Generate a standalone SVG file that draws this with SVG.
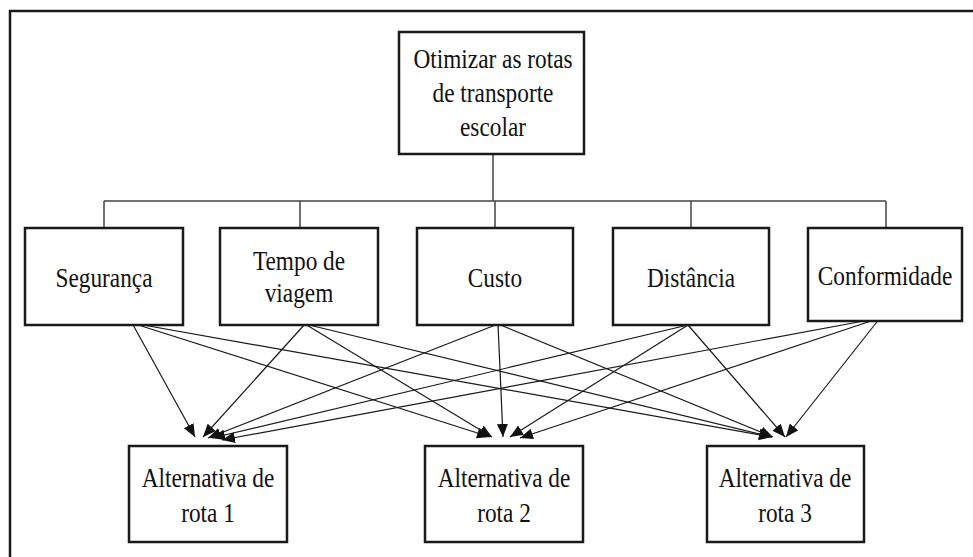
<svg xmlns="http://www.w3.org/2000/svg" width="973" height="557" viewBox="0 0 973 557">
<style>
.frame{fill:none;stroke:#1a1a1a;stroke-width:2.5}
.box{fill:#fff;stroke:#1a1a1a;stroke-width:2.5}
.tree{fill:none;stroke:#444;stroke-width:1.5}
.arr{fill:none;stroke:#1a1a1a;stroke-width:1.2;marker-end:url(#ah)}
.t{font-family:"Liberation Serif","Times New Roman",serif;font-size:28px;fill:#111;text-anchor:middle}
</style>
<defs>
<marker id="ah" markerUnits="userSpaceOnUse" markerWidth="14" markerHeight="12" refX="13" refY="5.5" orient="auto">
<path d="M0,0 L13,5.5 L0,11 z" fill="#111"/>
</marker>
</defs>
<rect class="frame" x="10" y="11" width="1000" height="600"/>
<g id="connectors">
<path class="tree" d="M493,154 V201 M104,201 H886 M104,201 V228 M300,201 V228 M495,201 V228 M691,201 V228 M886,201 V228"/>
<line class="arr" x1="132" y1="323" x2="195" y2="437"/>
<line class="arr" x1="132" y1="323" x2="490" y2="437"/>
<line class="arr" x1="132" y1="323" x2="772" y2="437"/>
<line class="arr" x1="305" y1="324" x2="203" y2="437"/>
<line class="arr" x1="305" y1="324" x2="492" y2="437"/>
<line class="arr" x1="305" y1="324" x2="772" y2="437"/>
<line class="arr" x1="498" y1="324" x2="208" y2="438"/>
<line class="arr" x1="498" y1="324" x2="503" y2="437"/>
<line class="arr" x1="498" y1="324" x2="773" y2="437"/>
<line class="arr" x1="688" y1="325" x2="212" y2="438"/>
<line class="arr" x1="688" y1="325" x2="510" y2="437"/>
<line class="arr" x1="688" y1="325" x2="785" y2="437"/>
<line class="arr" x1="880" y1="318" x2="222" y2="440"/>
<line class="arr" x1="880" y1="318" x2="520" y2="438"/>
<line class="arr" x1="880" y1="318" x2="786" y2="437"/>
</g>
<g id="goal">
<rect class="box" x="399" y="32" width="185" height="122"/>
<text class="t" transform="translate(493,68) scale(0.832,1)">Otimizar as rotas</text>
<text class="t" transform="translate(493,102) scale(0.832,1)">de transporte</text>
<text class="t" transform="translate(493,136) scale(0.832,1)">escolar</text>
</g>
<g id="seguranca">
<rect class="box" x="25" y="228" width="158" height="97"/>
<text class="t" transform="translate(104,287) scale(0.832,1)">Segurança</text>
</g>
<g id="tempo">
<rect class="box" x="220" y="228" width="158" height="97"/>
<text class="t" transform="translate(299,270) scale(0.832,1)">Tempo de</text>
<text class="t" transform="translate(299,302) scale(0.832,1)">viagem</text>
</g>
<g id="custo">
<rect class="box" x="417" y="228" width="156" height="97"/>
<text class="t" transform="translate(495,287) scale(0.832,1)">Custo</text>
</g>
<g id="distancia">
<rect class="box" x="613" y="228" width="156" height="97"/>
<text class="t" transform="translate(691,287) scale(0.832,1)">Distância</text>
</g>
<g id="conformidade">
<rect class="box" x="808" y="228" width="154" height="93"/>
<text class="t" transform="translate(885,285) scale(0.832,1)">Conformidade</text>
</g>
<g id="alt1">
<rect class="box" x="129" y="446" width="158" height="96"/>
<text class="t" transform="translate(208,487) scale(0.832,1)">Alternativa de</text>
<text class="t" transform="translate(208,522) scale(0.832,1)">rota 1</text>
</g>
<g id="alt2">
<rect class="box" x="425" y="446" width="158" height="96"/>
<text class="t" transform="translate(504,487) scale(0.832,1)">Alternativa de</text>
<text class="t" transform="translate(504,522) scale(0.832,1)">rota 2</text>
</g>
<g id="alt3">
<rect class="box" x="707" y="446" width="157" height="96"/>
<text class="t" transform="translate(785,487) scale(0.832,1)">Alternativa de</text>
<text class="t" transform="translate(785,522) scale(0.832,1)">rota 3</text>
</g>
</svg>
